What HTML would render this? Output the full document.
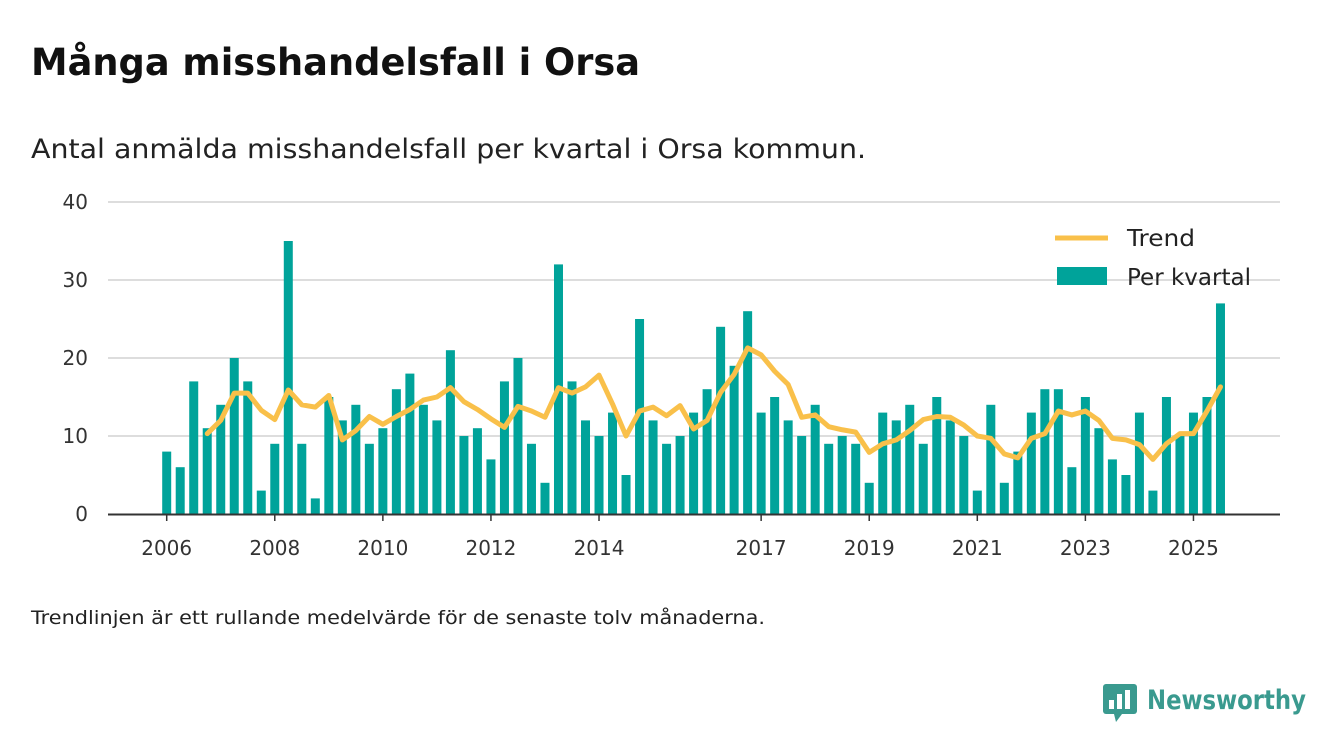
<!DOCTYPE html>
<html><head><meta charset="utf-8"><style>
body{margin:0;background:#fff;width:1340px;height:753px;overflow:hidden;font-family:"DejaVu Sans","Liberation Sans",sans-serif;}
</style></head><body>
<svg width="1340" height="753" style="position:absolute;left:0;top:0">
<text x="31" y="75" font-size="37" font-weight="bold" fill="#111" textLength="609" lengthAdjust="spacingAndGlyphs">Många misshandelsfall i Orsa</text>
<text x="31" y="158" font-size="27" fill="#222" textLength="835" lengthAdjust="spacingAndGlyphs">Antal anmälda misshandelsfall per kvartal i Orsa kommun.</text>
<g id="grid"></g><g id="bars"></g><g id="trend"></g><g id="axis"></g>
<g>
<line x1="1055" y1="238" x2="1108" y2="238" stroke="#f9c04a" stroke-width="5"/>
<text x="1127" y="246" font-size="23" fill="#222" textLength="68" lengthAdjust="spacingAndGlyphs">Trend</text>
<rect x="1057" y="267" width="50" height="18" fill="#00a39a"/>
<text x="1127" y="285" font-size="23" fill="#222" textLength="124" lengthAdjust="spacingAndGlyphs">Per kvartal</text>
</g>
<text x="31" y="624" font-size="19" fill="#222" textLength="734" lengthAdjust="spacingAndGlyphs">Trendlinjen är ett rullande medelvärde för de senaste tolv månaderna.</text>
<g>
<rect x="1103" y="684" width="34" height="30" rx="3" fill="#3a9a8f"/>
<polygon points="1114,714 1122,714 1116,722" fill="#3a9a8f"/>
<rect x="1109" y="700" width="5" height="9" fill="#fff"/><rect x="1117" y="694" width="5" height="15" fill="#fff"/><rect x="1125" y="690" width="5" height="19" fill="#fff"/>
<text x="1147" y="709" font-size="27" font-weight="bold" fill="#3a9a8f" textLength="159" lengthAdjust="spacingAndGlyphs">Newsworthy</text>
</g>
</svg>
<script>
const values=[8,6,17,11,14,20,17,3,9,35,9,2,15,12,14,9,11,16,18,14,12,21,10,11,7,17,20,9,4,32,17,12,10,13,5,25,12,9,10,13,16,24,19,26,13,15,12,10,14,9,10,9,4,13,12,14,9,15,12,10,3,14,4,8,13,16,16,6,15,11,7,5,13,3,15,10,13,15,27];
const trend=[null,null,null,10.3,12,15.5,15.5,13.3,12.1,15.9,14,13.7,15.2,9.5,10.7,12.5,11.5,12.5,13.4,14.6,15,16.2,14.4,13.4,12.2,11.1,13.8,13.2,12.4,16.2,15.5,16.3,17.8,14.1,10,13.2,13.7,12.6,13.9,10.9,12,15.6,17.9,21.3,20.4,18.3,16.6,12.4,12.7,11.2,10.8,10.5,7.9,9,9.5,10.7,12.1,12.5,12.4,11.4,10,9.7,7.7,7.2,9.7,10.3,13.2,12.7,13.2,12,9.7,9.5,8.9,7,9,10.3,10.3,13.2,16.3];
const yTicks=[0,10,20,30,40];
const xYears=[2006,2008,2010,2012,2014,2017,2019,2021,2023,2025];
const NS="http://www.w3.org/2000/svg";
const x=i=>166.7+i*13.51, y=v=>514-v*7.8;
function mk(t,a,p){const e=document.createElementNS(NS,t);for(const k in a)e.setAttribute(k,a[k]);p.appendChild(e);return e;}
const grid=document.getElementById('grid'),bars=document.getElementById('bars'),tr=document.getElementById('trend'),ax=document.getElementById('axis');
yTicks.forEach(t=>{
 if(t>0){const l=mk('line',{x1:108,x2:1280,y1:y(t),y2:y(t),stroke:'#ddd','stroke-width':2},grid);
 
 }
 const tx=mk('text',{x:88,y:y(t)+7,'font-size':20,fill:'#333','text-anchor':'end'},grid);tx.textContent=t;
 
 
});
values.forEach((v,i)=>{const r=mk('rect',{x:x(i)-4.5,y:y(v),width:9,height:v*7.8,fill:'#00a39a'},bars);
 
 });
let d='';trend.forEach((v,i)=>{if(v!=null)d+=(d?'L':'M')+x(i)+','+y(v);});
const p=mk('path',{d:d,fill:'none',stroke:'#f9c04a','stroke-width':5,'stroke-linejoin':'round','stroke-linecap':'round'},tr);


const al=mk('line',{x1:108,x2:1280,y1:514.5,y2:514.5,stroke:'#333','stroke-width':2},ax);


xYears.forEach(yr=>{const xx=x((yr-2006)*4);
 mk('line',{x1:xx,x2:xx,y1:514,y2:521,stroke:'#333','stroke-width':1.5},ax);
 const t=mk('text',{x:xx,y:555,'font-size':20,fill:'#333','text-anchor':'middle'},ax);t.textContent=yr;
 
 });
</script>
</body></html>
